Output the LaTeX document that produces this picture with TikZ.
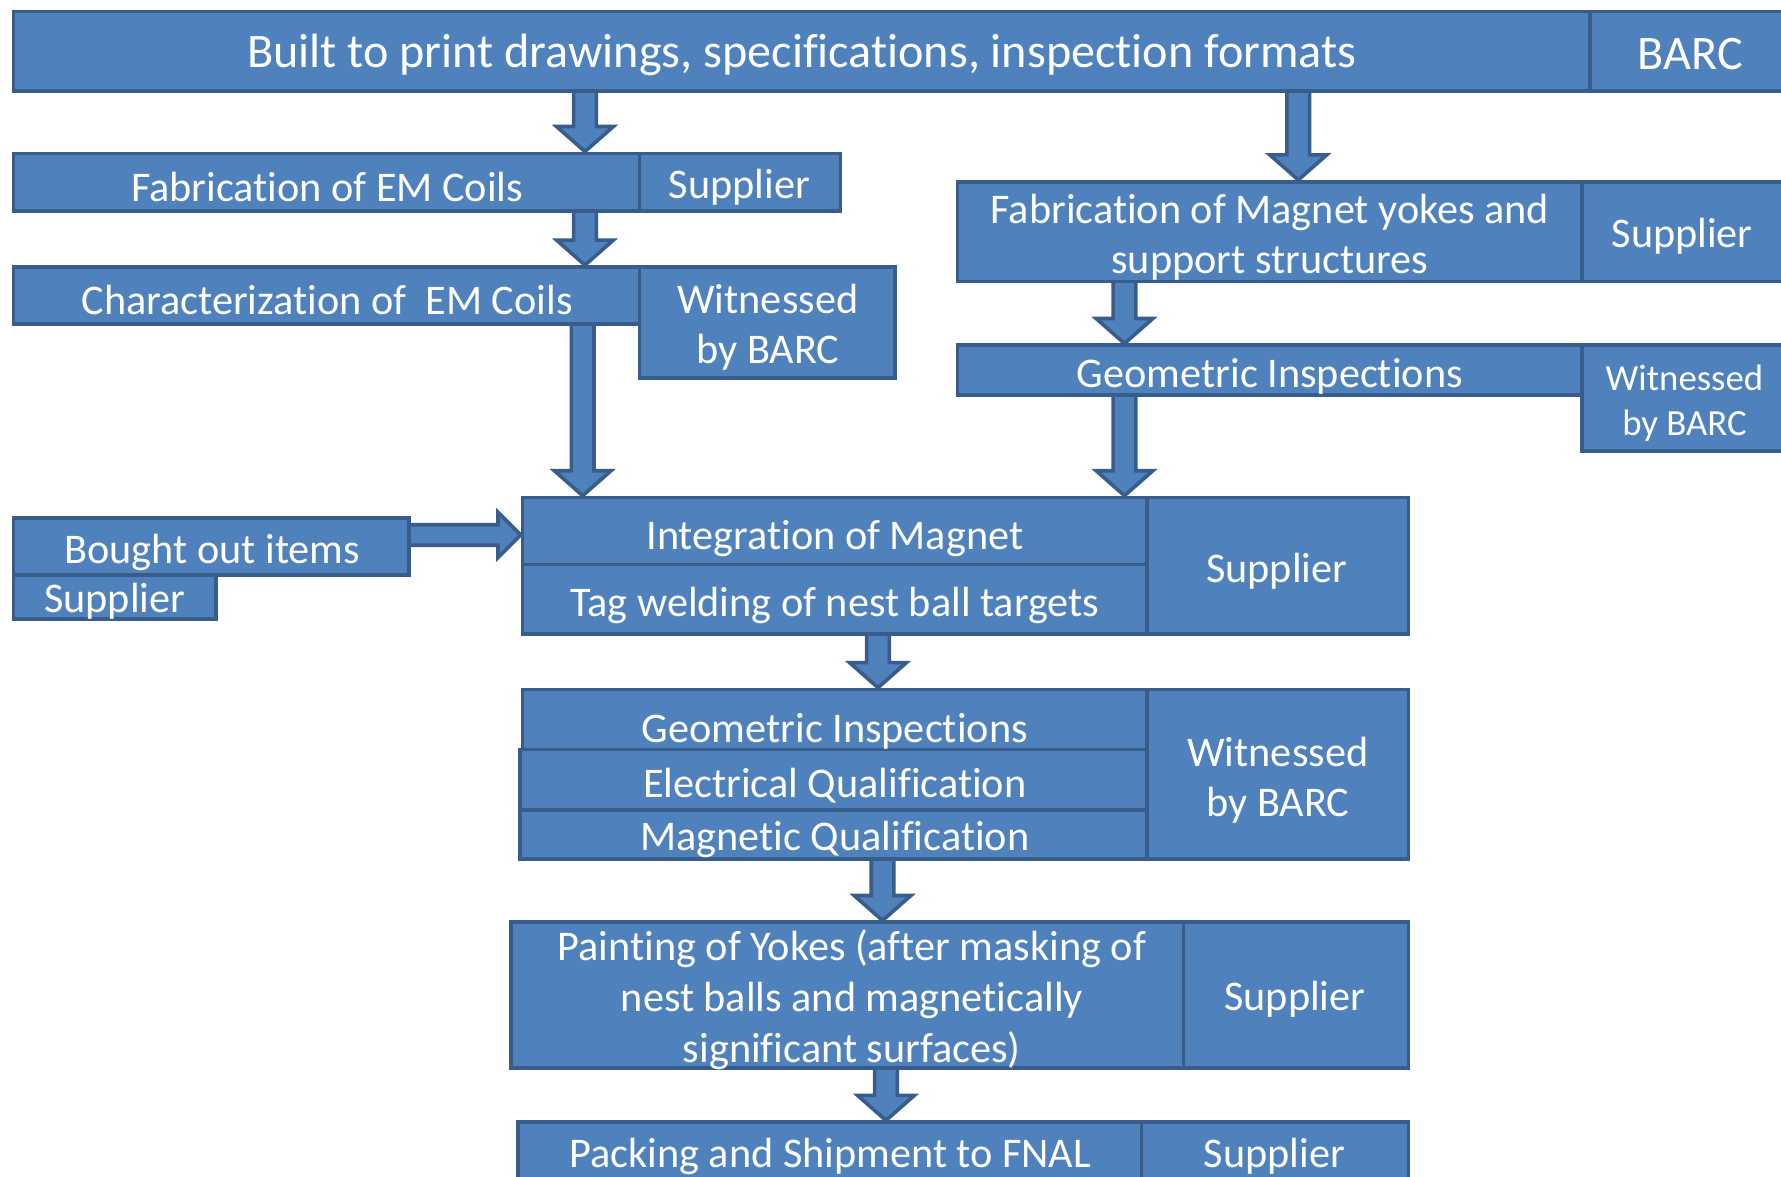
\documentclass[tikz,border=0pt]{standalone}
\usepackage{fontspec}
\setmainfont[Ligatures={NoCommon,NoRare}]{Carlito}
\usetikzlibrary{calc,fit}
\pgfdeclarelayer{back}
\pgfdeclarelayer{bg}
\pgfsetlayers{back,bg,main}
\definecolor{bfill}{HTML}{4F81BD}
\definecolor{bline}{HTML}{385D8A}
\newcommand\dar[2]{%
 \begin{pgfonlayer}{bg}
 \draw[blk] ($(#1)+(-10,-6)$) -- ($(#2)+(-10,-22)$) -- ($(#2)+(-25,-22)$) -- (#2) -- ($(#2)+(25,-22)$) -- ($(#2)+(10,-22)$) -- ($(#1)+(10,-6)$) -- cycle;
 \end{pgfonlayer}}
\newcommand\rar[2]{%
 \begin{pgfonlayer}{bg}
 \draw[blk] ($(#1)+(-6,-9)$) -- ($(#2)+(-20,-9)$) -- ($(#2)+(-20,-20)$) -- (#2) -- ($(#2)+(-20,20)$) -- ($(#2)+(-20,9)$) -- ($(#1)+(-6,9)$) -- cycle;
 \end{pgfonlayer}}
\begin{document}
\begin{tikzpicture}[x=0.5pt,y=-0.5pt,
  box/.style={draw=bline, fill=bfill, line width=1.6pt, inner sep=0pt},
  txt/.style={text=white, inner sep=0pt, align=center, yshift=-1.5pt, font=\fontsize{18.6}{22.3}\selectfont},
  small/.style={font=\fontsize{16.2}{19.5}\selectfont},
  big/.style={font=\fontsize{21.2}{25}\selectfont},
  blk/.style={draw=bline, fill=bfill, line width=1.6pt, line join=miter}]
\begin{pgfonlayer}{back}
\fill[white] (0,0) rectangle (1568,1036);
\end{pgfonlayer}
\useasboundingbox (0,0) rectangle (1568,1036);

% boxes
\node[box, fit={(12,10) (1400,80)}] (top) {};
\node[box, fit={(1400,10) (1600,80)}] (topr) {};
\node[box, fit={(12,135) (563,186)}] (fabc) {};
\node[box, fit={(563,135) (740,186)}] (fabcs) {};
\node[box, fit={(12,235) (563,285)}] (charc) {};
\node[box, fit={(563,235) (788,333)}] (charw) {};
\node[box, fit={(843,160) (1393,248)}] (fabm) {};
\node[box, fit={(1393,160) (1600,248)}] (fabms) {};
\node[box, fit={(843,304) (1393,348)}] (geoa) {};
\node[box, fit={(1393,304) (1600,397)}] (geoaw) {};
\node[box, fit={(12,456) (360,506)}] (bought) {};
\node[box, fit={(12,506) (190,545)}] (boughts) {};
\node[box, fit={(460,438) (1010,497)}] (integ) {};
\node[box, fit={(460,497) (1010,558)}] (tag) {};
\node[box, fit={(1010,438) (1240,558)}] (integs) {};
\node[box, fit={(460,607) (1010,660)}] (geob) {};
\node[box, fit={(458,660) (1010,713)}] (elec) {};
\node[box, fit={(458,713) (1010,756)}] (magq) {};
\node[box, fit={(1010,607) (1240,756)}] (insw) {};
\node[box, fit={(450,812) (1042,940)}] (paint) {};
\node[box, fit={(1042,812) (1240,940)}] (paints) {};
\node[box, fit={(456,988) (1005,1042)}] (pack) {};
\node[box, fit={(1005,988) (1240,1042)}] (packs) {};

% texts
\node[txt,big] (topt) at (706,45) {Built to print drawings, specifications, inspection formats};
\node[txt,big] (toprt) at (1488,45) {BARC};
\node[txt] (fabct) at (288,162) {Fabrication of EM Coils};
\node[txt] (fabcst) at (651,162) {Supplier};
\node[txt] (charct) at (288,261) {Characterization of \ EM Coils};
\node[txt] (charwt) at (676,285) {Witnessed\\by BARC};
\node[txt] (fabmt) at (1118,206) {Fabrication of Magnet yokes and\\support structures};
\node[txt] (fabmst) at (1481,205) {Supplier};
\node[txt] (geoat) at (1118,328) {Geometric Inspections};
\node[txt,small] (geoawt) at (1483,352) {Witnessed\\by BARC};
\node[txt] (boughtt) at (187,483) {Bought out items};
\node[txt] (boughtst) at (101,526) {Supplier};
\node[txt] (integt) at (735,471) {Integration of Magnet};
\node[txt] (tagt) at (735,530) {Tag welding of nest ball targets};
\node[txt] (integst) at (1124,500) {Supplier};
\node[txt] (geobt) at (735,641) {Geometric Inspections};
\node[txt] (elect) at (735,689) {Electrical Qualification};
\node[txt] (magqt) at (735,736) {Magnetic Qualification};
\node[txt] (inswt) at (1125,684) {Witnessed\\by BARC};
\node[txt] (paintt) at (750,877) {Painting of Yokes (after masking of\\nest balls and magnetically\\significant surfaces)};
\node[txt] (paintst) at (1140,877) {Supplier};
\node[txt] (packt) at (731,1015) {Packing and Shipment to FNAL};
\node[txt] (packst) at (1122,1015) {Supplier};

% arrow columns
\coordinate (xa) at (515,0);
\coordinate (xb) at (513,0);
\coordinate (xc) at (1143,0);
\coordinate (xd) at (990,0);
\coordinate (xe) at (773,0);
\coordinate (xf) at (777,0);
\coordinate (xg) at (780,0);
\coordinate (yh) at (0,471);

\dar{top.south -| xa}{fabc.north -| xa}
\dar{fabc.south -| xa}{charc.north -| xa}
\dar{charc.south -| xb}{integ.north -| xb}
\dar{top.south -| xc}{fabm.north -| xc}
\dar{fabm.south -| xd}{geoa.north -| xd}
\dar{geoa.south -| xd}{integ.north -| xd}
\dar{tag.south -| xe}{geob.north -| xe}
\dar{magq.south -| xf}{paint.north -| xf}
\dar{paint.south -| xg}{pack.north -| xg}
\rar{bought.east |- yh}{integ.west |- yh}
\end{tikzpicture}
\end{document}
